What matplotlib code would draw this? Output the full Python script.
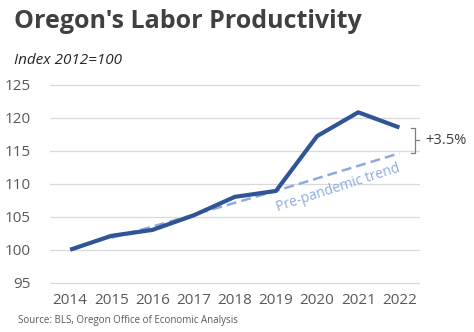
import matplotlib.pyplot as plt
import numpy as np

# Dati
years = [2014, 2015, 2016, 2017, 2018, 2019, 2020, 2021, 2022]
productivity = [100.0, 102.1, 103.0, 105.2, 108.0, 108.9, 117.2, 120.8, 118.5]
trend_years = [2015, 2016, 2017, 2018, 2019, 2020, 2021, 2022]
trend = [101.8, 103.5, 105.3, 107.1, 108.9, 110.8, 112.7, 114.6]
yticks = [95, 100, 105, 110, 115, 120, 125]

plt.rcParams['font.family'] = ['Open Sans', 'DejaVu Sans']

fig = plt.figure(figsize=(4.74, 3.32), dpi=100)
ax = fig.add_axes([50 / 474, 1 - 292 / 332, 370 / 474, 218 / 332])

x = np.arange(len(years))
tx = np.array([years.index(y) for y in trend_years])

ax.plot(tx, trend, color='#8FAADC', lw=1.8, ls=(0, (4, 2)), zorder=2)
ax.plot(x, productivity, color='#2F5597', lw=3, solid_capstyle='butt', zorder=3)

ax.set_xlim(-0.49, 8.5)
ax.set_ylim(93.6, 126.6)
ax.set_yticks(yticks)
ax.set_xticks(x)
ax.set_xticklabels([str(y) for y in years])
ax.grid(axis='y', color='#D9D9D9', lw=0.9)
ax.set_axisbelow(True)
for s in ax.spines.values():
    s.set_visible(False)
ax.tick_params(length=0, labelsize=11, colors='#595959')
ax.tick_params(axis='y', pad=14)
ax.tick_params(axis='x', pad=1)

# Etichetta del trend
ax.text(6.5, 109.4, 'Pre-pandemic trend', color='#8FAADC', fontsize=10,
        rotation=18, ha='center', va='center', rotation_mode='anchor')

# Parentesi
bx = 8.38
y_top, y_bot = productivity[-1], trend[-1]
ax.plot([bx - 0.1, bx, bx, bx - 0.1], [y_top, y_top, y_bot, y_bot],
        color='#7F7F7F', lw=0.9, clip_on=False)
ym = (y_top + y_bot) / 2
ax.plot([bx, bx + 0.1], [ym, ym], color='#7F7F7F', lw=0.9, clip_on=False)
ax.text(bx + 0.25, ym, '+3.5%', fontsize=10.5, color='#404040', va='center', ha='left')

fig.text(14 / 474, 1 - 22 / 332, "Oregon's Labor Productivity", fontsize=18,
         fontweight='bold', color='#404040', va='center', ha='left')
fig.text(14 / 474, 1 - 60 / 332, 'Index 2012=100', fontsize=11, style='italic',
         color='#262626', va='center', ha='left')
fig.text(18 / 474, 1 - 321 / 332, 'Source: BLS, Oregon Office of Economic Analysis',
         fontsize=7, color='#595959', va='center', ha='left')

fig.savefig('out.png', dpi=100)
